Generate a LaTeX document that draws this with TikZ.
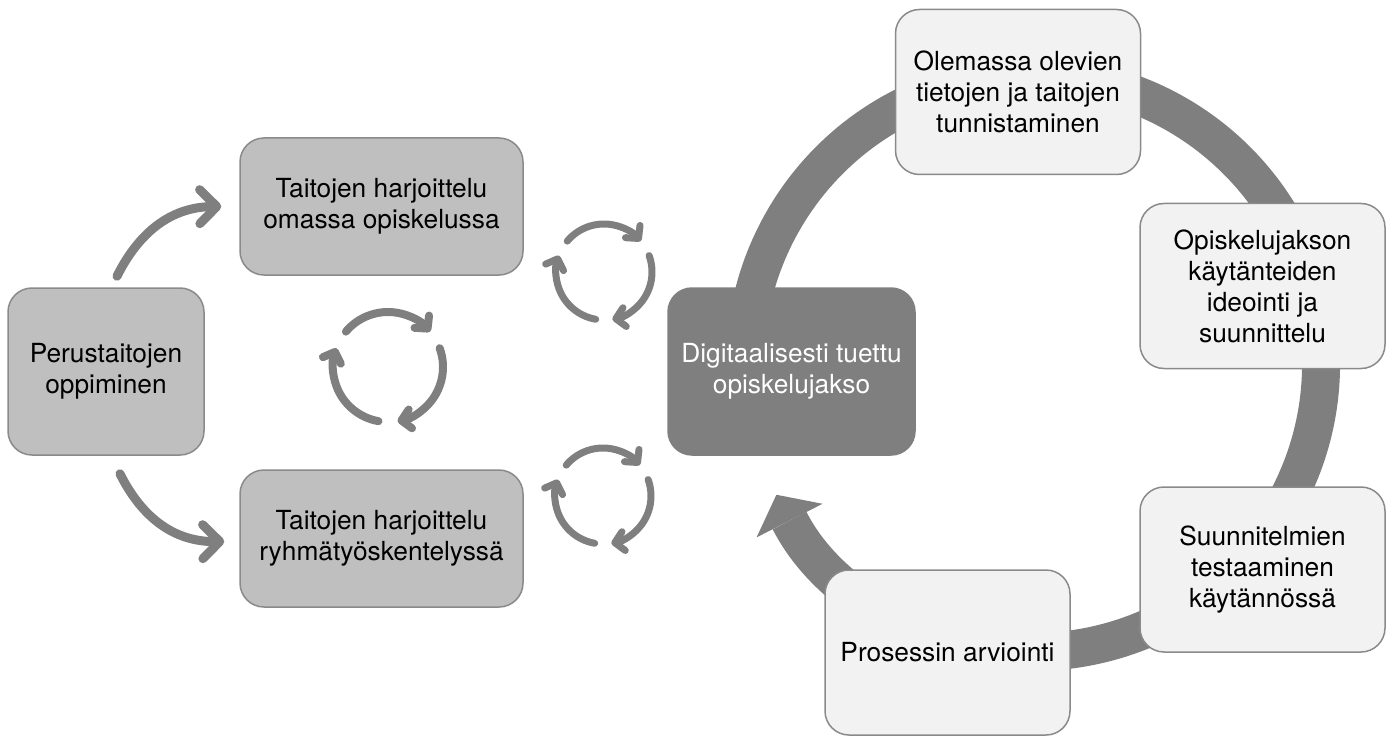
\documentclass[tikz,border=0pt]{standalone}
\usepackage{fontspec}
\setmainfont{TeX Gyre Heros}
\usetikzlibrary{arrows.meta,calc,backgrounds}
\definecolor{gdark}{HTML}{7F7F7F}
\definecolor{gbox}{HTML}{BFBFBF}
\definecolor{glight}{HTML}{F2F2F2}
\definecolor{gborder}{HTML}{8A8A8A}
\begin{document}
\begin{tikzpicture}[x=1pt,y=-1pt,
  basebox/.style={draw=gborder, line width=1.5pt, rounded corners=24pt, align=center,
    font=\fontsize{26.3}{31}\selectfont, inner sep=0pt, text=black},
  lbox/.style={basebox, fill=gbox},
  rbox/.style={basebox, fill=glight, minimum width=245pt, minimum height=165pt},
  dbox/.style={basebox, fill=gdark, draw=gdark, text=white},
  bigarrow/.style={draw=gdark, line width=38pt, -{Triangle[width=74pt,length=29pt,line width=0pt]}},
  cyc/.style={draw=gdark, line cap=round, -{Straight Barb[round,length=9pt,width=19pt]}},
  larrow/.style={draw=gdark, line width=9pt, line cap=round, -{Straight Barb[round,length=17pt,width=34pt]}}
]
\useasboundingbox (0,0) rectangle (1395,738);

% nodes
\node[lbox, minimum width=196pt, minimum height=167pt] (P) at (106,371.5) {Perustaitojen\\oppiminen};
\node[lbox, minimum width=283pt, minimum height=137pt] (T1) at (381.5,206.5) {Taitojen harjoittelu\\omassa opiskelussa};
\node[lbox, minimum width=283pt, minimum height=137pt] (T2) at (381.5,538.5) {Taitojen harjoittelu\\ryhmätyöskentelyssä};
\node[dbox, minimum width=247pt, minimum height=167pt] (D) at (791.5,371.5) {Digitaalisesti tuettu\\opiskelujakso};
\node[rbox] (O) at (1018,92) {Olemassa olevien\\tietojen ja taitojen\\tunnistaminen};
\node[rbox] (S1) at (1262.5,286) {Opiskelujakson\\käytänteiden\\ideointi ja\\suunnittelu};
\node[rbox] (S2) at (1262.5,569.5) {Suunnitelmien\\testaaminen\\käytännössä};
\node[rbox] (PR) at (947.5,652.5) {Prosessin arviointi};

% big cycle arrow behind the boxes
\coordinate (C) at (1033,364);
\begin{scope}[on background layer]
\draw[bigarrow] ($(C)+(170:288)$) arc[start angle=170, end angle=513, radius=288];
\end{scope}

% small cycle icons
\coordinate (I1) at (604,272);
\coordinate (I2) at (388,367);
\coordinate (I3) at (603,496);
\foreach \c/\r/\w in {I1/48/7, I2/55/8, I3/48/7} {
  \foreach \a/\b in {100/200, 220/320, 340/440} {
    \draw[cyc, line width=\w pt] ($(\c)+(\a:\r)$) arc[start angle=\a, end angle=\b, radius=\r];
  }
}

% left curved arrows
\draw[larrow] ([xshift=11pt,yshift=11pt]P.north) .. controls (135,240) and (165,207) .. ([xshift=-18pt]T1.west);
\draw[larrow] ([xshift=14pt,yshift=-18pt]P.south) .. controls (138,510) and (168,542) .. ([xshift=-15pt,yshift=-3pt]T2.west);
\end{tikzpicture}
\end{document}
